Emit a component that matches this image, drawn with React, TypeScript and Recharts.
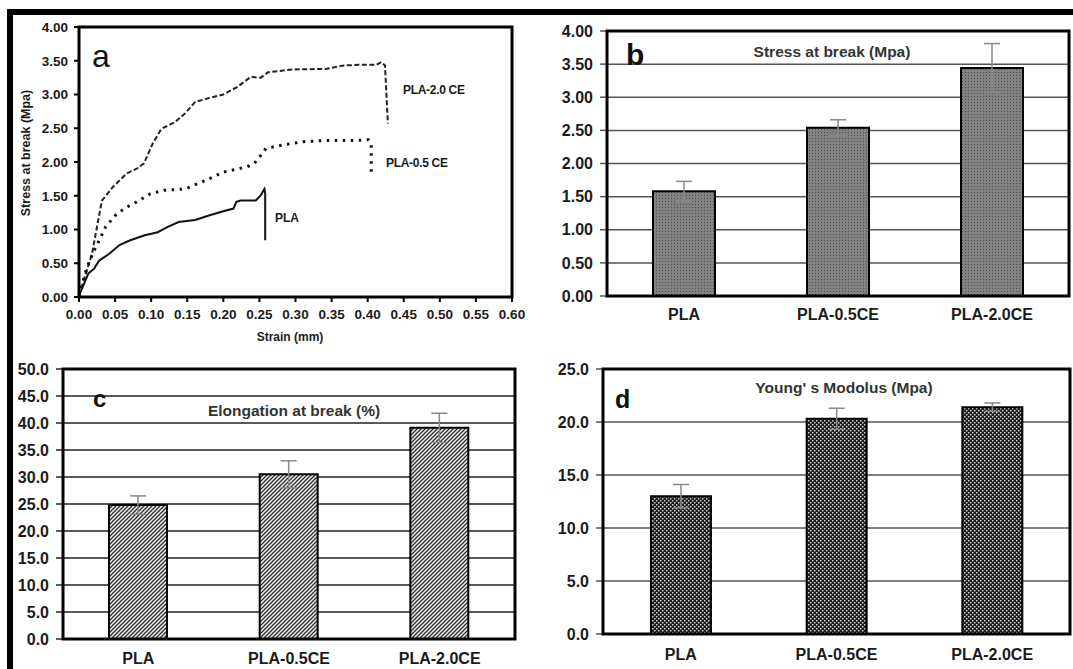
import React from 'react';
import { LineChart, Line, BarChart, Bar, XAxis, YAxis, CartesianGrid, ErrorBar } from 'recharts';

// ---- data ----
const categories = ['PLA', 'PLA-0.5CE', 'PLA-2.0CE'];

const stressBreak = [1.58, 2.54, 3.44];
const stressErr = [0.15, 0.12, 0.37];
const elongation = [24.8, 30.5, 39.1];
const elongationErr = [1.7, 2.5, 2.7];
const modulus = [13.0, 20.3, 21.4];
const modulusErr = [1.1, 1.0, 0.4];

// panel a curves (strain mm, stress Mpa)
const plaStrain = [0, 0.006, 0.013, 0.021, 0.028, 0.042, 0.056, 0.071, 0.09, 0.109, 0.123, 0.138, 0.161, 0.181, 0.2, 0.214, 0.218, 0.224, 0.245, 0.252, 0.257, 0.258, 0.258];
const plaStress = [0.02, 0.17, 0.35, 0.42, 0.54, 0.64, 0.77, 0.84, 0.91, 0.96, 1.04, 1.11, 1.14, 1.21, 1.27, 1.31, 1.41, 1.43, 1.43, 1.51, 1.6, 1.53, 0.84];
const ce05Strain = [0, 0.011, 0.021, 0.028, 0.037, 0.052, 0.066, 0.08, 0.099, 0.118, 0.147, 0.176, 0.2, 0.233, 0.243, 0.252, 0.259, 0.281, 0.31, 0.343, 0.386, 0.401, 0.405, 0.405];
const ce05Stress = [0.02, 0.44, 0.69, 0.84, 1.04, 1.23, 1.33, 1.41, 1.53, 1.58, 1.6, 1.73, 1.85, 1.93, 1.98, 2.1, 2.2, 2.25, 2.3, 2.32, 2.32, 2.33, 2.27, 1.83];
const ce20Strain = [0, 0.018, 0.03, 0.032, 0.047, 0.066, 0.08, 0.09, 0.102, 0.114, 0.133, 0.147, 0.161, 0.181, 0.2, 0.219, 0.238, 0.252, 0.262, 0.295, 0.343, 0.367, 0.391, 0.412, 0.419, 0.424, 0.428];
const ce20Stress = [0.02, 0.64, 1.33, 1.43, 1.63, 1.83, 1.9, 1.98, 2.27, 2.49, 2.59, 2.72, 2.89, 2.95, 3.0, 3.11, 3.26, 3.25, 3.33, 3.37, 3.38, 3.43, 3.44, 3.44, 3.48, 3.43, 2.57];

const strainTicks = [0, 0.05, 0.1, 0.15, 0.2, 0.25, 0.3, 0.35, 0.4, 0.45, 0.5, 0.55, 0.6];
const stressTicks = [0, 0.5, 1, 1.5, 2, 2.5, 3, 3.5, 4];
const elongTicks = [0, 5, 10, 15, 20, 25, 30, 35, 40, 45, 50];
const modulusTicks = [0, 5, 10, 15, 20, 25];

const toPoints = (xs: number[], ys: number[]) => xs.map((x, i) => ({ x, y: ys[i] }));
const toBars = (vals: number[], errs: number[]) =>
  categories.map((name, i) => ({ name, value: vals[i], err: errs[i] }));

// ---- layout ----
const FONT = '"Liberation Sans", Arial, sans-serif';
const TXT = '#1b1b1b';

type Box = { left: number; top: number; right: number; bottom: number };
const boxA: Box = { left: 79, top: 27, right: 512, bottom: 297 };
const boxB: Box = { left: 607, top: 31, right: 1069, bottom: 296 };
const boxC: Box = { left: 63, top: 369, right: 515, bottom: 639 };
const boxD: Box = { left: 603, top: 369, right: 1070, bottom: 634 };

const frame = (box: Box, x0: number, y0: number, w: number, h: number, yW: number, xH: number) => ({
  style: { position: 'absolute' as const, left: x0, top: y0 },
  width: w,
  height: h,
  margin: {
    top: box.top - y0,
    left: box.left - x0 - yW,
    right: x0 + w - box.right,
    bottom: y0 + h - box.bottom - xH,
  },
});

interface BarPanelProps {
  box: Box;
  x0: number;
  y0: number;
  w: number;
  h: number;
  data: { name: string; value: number; err: number }[];
  ticks: number[];
  digits: number;
  fill: string;
  grid: string;
  barSize: number;
  xMargin: number;
}

const BarPanel: React.FC<BarPanelProps> = ({ box, x0, y0, w, h, data, ticks, digits, fill, grid, barSize, xMargin }) => {
  const f = frame(box, x0, y0, w, h, 60, 30);
  return (
    <div style={f.style}>
      <BarChart width={f.width} height={f.height} data={data} margin={f.margin}>
        <CartesianGrid vertical={false} stroke={grid} strokeWidth={1.5} />
        <XAxis
          dataKey="name"
          height={30}
          axisLine={false}
          tickLine={false}
          tickMargin={xMargin}
          tick={{ fill: TXT, fontSize: 16, fontWeight: 700, fontFamily: FONT }}
        />
        <YAxis
          width={60}
          domain={[ticks[0], ticks[ticks.length - 1]]}
          ticks={ticks}
          interval={0}
          axisLine={false}
          tickLine={{ stroke: grid, strokeWidth: 1.5 }}
          tickSize={7}
          tickMargin={7}
          tickFormatter={(v: number) => v.toFixed(digits)}
          tick={{ fill: TXT, fontSize: 16, fontWeight: 700, fontFamily: FONT }}
        />
        <Bar dataKey="value" barSize={barSize} fill={fill} stroke="#000" strokeWidth={2} isAnimationActive={false}>
          <ErrorBar dataKey="err" width={8} stroke="#888" strokeWidth={1.5} />
        </Bar>
      </BarChart>
    </div>
  );
};

const boxRect = (b: Box) => (
  <rect x={b.left} y={b.top} width={b.right - b.left} height={b.bottom - b.top} fill="none" stroke="#000" strokeWidth={3} />
);

const App: React.FC = () => {
  const fa = frame(boxA, 0, 0, 530, 340, 50, 30);
  const labelStyle = { fontFamily: FONT, fontWeight: 700, fill: TXT };

  return (
    <div style={{ position: 'absolute', left: 0, top: 0, width: 1073, height: 669, background: '#fff', overflow: 'hidden' }}>
      <svg width={0} height={0} style={{ position: 'absolute' }}>
        <defs>
          <pattern id="dotGrey" patternUnits="userSpaceOnUse" width={3} height={3}>
            <rect width={3} height={3} fill="#828282" />
            <rect width={1} height={1} fill="#505050" />
          </pattern>
          <pattern id="hatch" patternUnits="userSpaceOnUse" width={4} height={4}>
            <rect width={4} height={4} fill="#f0f0f0" />
            <path d="M-1,1 l2,-2 M0,4 l4,-4 M3,5 l2,-2" stroke="#2e2e2e" strokeWidth={1.3} />
          </pattern>
          <pattern id="checker" patternUnits="userSpaceOnUse" width={4} height={4}>
            <rect width={4} height={4} fill="#1e1e1e" />
            <rect x={0} y={0} width={1.5} height={1.5} fill="#c8c8c8" />
            <rect x={2} y={2} width={1.5} height={1.5} fill="#c8c8c8" />
          </pattern>
        </defs>
      </svg>

      {/* panel a */}
      <div style={fa.style}>
        <LineChart width={fa.width} height={fa.height} margin={fa.margin}>
          <XAxis
            dataKey="x"
            type="number"
            domain={[0, 0.6]}
            ticks={strainTicks}
            interval={0}
            height={30}
            axisLine={false}
            tickLine={{ stroke: '#000', strokeWidth: 2 }}
            tickSize={5}
            tickMargin={7}
            tickFormatter={(v: number) => v.toFixed(2)}
            tick={{ fill: TXT, fontSize: 13.5, fontWeight: 700, fontFamily: FONT }}
          />
          <YAxis
            dataKey="y"
            type="number"
            width={50}
            domain={[0, 4]}
            ticks={stressTicks}
            interval={0}
            axisLine={false}
            tickLine={{ stroke: '#000', strokeWidth: 2 }}
            tickSize={5}
            tickMargin={6}
            tickFormatter={(v: number) => v.toFixed(2)}
            tick={{ fill: TXT, fontSize: 13.5, fontWeight: 700, fontFamily: FONT }}
          />
          <Line data={toPoints(ce20Strain, ce20Stress)} dataKey="y" type="linear" stroke="#222" strokeWidth={2}
            strokeDasharray="5 2.5" dot={false} isAnimationActive={false} />
          <Line data={toPoints(ce05Strain, ce05Stress)} dataKey="y" type="linear" stroke="#111" strokeWidth={3}
            strokeDasharray="2.5 5.5" dot={false} isAnimationActive={false} />
          <Line data={toPoints(plaStrain, plaStress)} dataKey="y" type="linear" stroke="#111" strokeWidth={2}
            dot={false} isAnimationActive={false} />
        </LineChart>
      </div>

      <BarPanel box={boxB} x0={530} y0={0} w={543} h={340} data={toBars(stressBreak, stressErr)}
        ticks={stressTicks} digits={2} fill="url(#dotGrey)" grid="#555" barSize={62} xMargin={7} />
      <BarPanel box={boxC} x0={0} y0={330} w={530} h={339} data={toBars(elongation, elongationErr)}
        ticks={elongTicks} digits={1} fill="url(#hatch)" grid="#222" barSize={58} xMargin={8} />
      <BarPanel box={boxD} x0={530} y0={330} w={543} h={339} data={toBars(modulus, modulusErr)}
        ticks={modulusTicks} digits={1} fill="url(#checker)" grid="#555" barSize={60} xMargin={9} />

      {/* frame, boxes and annotations */}
      <svg width={1073} height={669} style={{ position: 'absolute', left: 0, top: 0, pointerEvents: 'none' }}>
        <rect x={7} y={9} width={1066} height={6} fill="#000" />
        <rect x={7} y={9} width={6} height={660} fill="#000" />
        {boxRect(boxA)}
        {boxRect(boxB)}
        {boxRect(boxC)}
        {boxRect(boxD)}

        <text x={92} y={67} fontFamily={FONT} fontSize={32} fill="#111">a</text>
        <text x={626} y={65} fontFamily={FONT} fontSize={30} fontWeight={700} fill="#111">b</text>
        <text x={93} y={407} fontFamily={FONT} fontSize={24} fontWeight={700} fill="#111">c</text>
        <text x={615} y={408} fontFamily={FONT} fontSize={25} fontWeight={700} fill="#111">d</text>

        <text x={832} y={57} textAnchor="middle" fontSize={15.5} {...labelStyle} fill="#333">Stress at break (Mpa)</text>
        <text x={294} y={416} textAnchor="middle" fontSize={15.5} {...labelStyle} fill="#333">Elongation at break (%)</text>
        <text x={844} y={393} textAnchor="middle" fontSize={15.5} {...labelStyle} fill="#333">Young' s Modolus (Mpa)</text>

        <text x={403} y={94} fontSize={12} letterSpacing={-0.3} {...labelStyle}>PLA-2.0 CE</text>
        <text x={386} y={167} fontSize={12} letterSpacing={-0.3} {...labelStyle}>PLA-0.5 CE</text>
        <text x={275} y={222} fontSize={12} {...labelStyle}>PLA</text>

        <text x={290} y={341} textAnchor="middle" fontSize={12} {...labelStyle}>Strain (mm)</text>
        <text transform="translate(30,153) rotate(-90)" textAnchor="middle" fontSize={12.5} {...labelStyle}>Stress at break (Mpa)</text>
      </svg>
    </div>
  );
};

export default App;
